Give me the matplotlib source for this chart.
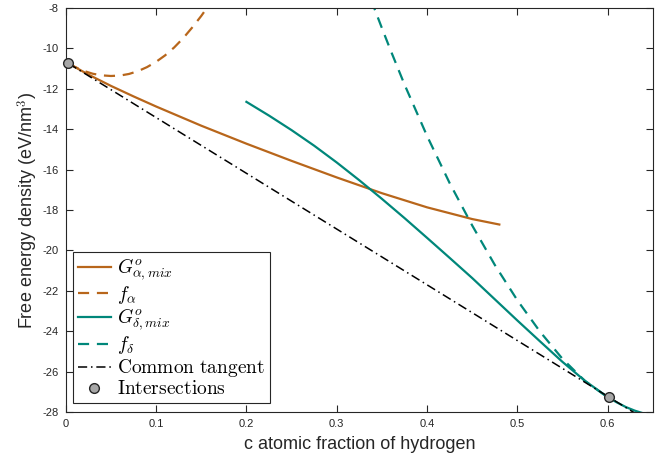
import numpy as np
import matplotlib
matplotlib.use('Agg')
import matplotlib.pyplot as plt

plt.rcParams['font.family'] = ['Liberation Sans', 'DejaVu Sans']
plt.rcParams['mathtext.fontset'] = 'cm'
plt.rcParams['axes.unicode_minus'] = False

# G_alpha,mix (solid orange)
ga_c = [0.003, 0.025, 0.05, 0.075, 0.1, 0.15, 0.2, 0.25, 0.3, 0.35, 0.4, 0.45, 0.48]
ga_y = [-10.75, -11.3, -11.86, -12.38, -12.88, -13.83, -14.72, -15.57, -16.39, -17.17, -17.87, -18.45, -18.72]

# f_alpha (dashed orange)
fa_c = [0.003, 0.01, 0.02, 0.03, 0.04, 0.05, 0.06, 0.07, 0.08, 0.09,
        0.1, 0.11, 0.12, 0.13, 0.14, 0.15, 0.16]
fa_y = [-10.75, -10.92, -11.12, -11.26, -11.34, -11.37, -11.35, -11.27, -11.13, -10.93,
        -10.67, -10.35, -9.96, -9.5, -8.97, -8.4, -7.77]

# G_delta,mix (solid green)
gd_c = [0.2, 0.225, 0.25, 0.275, 0.3, 0.325, 0.35, 0.375, 0.4, 0.425, 0.45, 0.475,
        0.5, 0.525, 0.55, 0.575, 0.6, 0.61, 0.62, 0.63, 0.64]
gd_y = [-12.65, -13.33, -14.05, -14.82, -15.65, -16.53, -17.45, -18.4, -19.38, -20.37, -21.37, -22.42,
        -23.47, -24.5, -25.52, -26.46, -27.26, -27.52, -27.75, -27.93, -28.07]

# f_delta (dashed green)
fd_c = [0.338, 0.35, 0.36, 0.375, 0.4, 0.425, 0.45, 0.475, 0.5, 0.525, 0.55, 0.575, 0.6]
fd_y = [-7.6, -9.0, -10.14, -11.79, -14.34, -16.67, -18.77, -20.72, -22.47, -24.02, -25.37, -26.47, -27.27]

# common tangent
tan_c = [0.003, 0.63]
tan_y = [-10.75, -28.05]

# intersections
int_c = [0.003, 0.601]
int_y = [-10.75, -27.27]

orange = '#b8661b'
green = '#00877a'

fig = plt.figure(figsize=(6.71, 4.63), dpi=100)
ax = fig.add_axes([0.098, 0.110, 0.875, 0.873])

ax.plot(ga_c, ga_y, color=orange, lw=1.6, label=r'$G^o_{\alpha,mix}$')
ax.plot(fa_c, fa_y, color=orange, lw=1.6, ls=(0, (5, 3.5)), label=r'$f_\alpha$')
ax.plot(gd_c, gd_y, color=green, lw=1.6, label=r'$G^o_{\delta,mix}$')
ax.plot(fd_c, fd_y, color=green, lw=1.6, ls=(0, (5, 3.5)), label=r'$f_\delta$')
ax.plot(tan_c, tan_y, color='black', lw=1.1, ls=(0, (6, 2.5, 1, 2.5)), label=r'$\mathrm{Common\ tangent}$')
ax.plot(int_c, int_y, ls='none', marker='o', ms=7, mfc='#a6a6a6', mec='#262626', mew=1.0,
        label=r'$\mathrm{Intersections}$', clip_on=False, zorder=5)

ax.set_xlim(0, 0.65)
ax.set_ylim(-28, -8)
ax.set_xticks(np.arange(0, 0.61, 0.1))
ax.set_xticklabels(['0', '0.1', '0.2', '0.3', '0.4', '0.5', '0.6'])
ax.set_yticks(np.arange(-28, -7, 2))
ax.tick_params(direction='in', top=True, right=True, length=5, width=0.8,
               labelsize=8, colors='#262626', pad=5)
for s in ax.spines.values():
    s.set_color('#262626')
    s.set_linewidth(0.8)

ax.set_xlabel('c atomic fraction of hydrogen', fontsize=13, color='#262626', labelpad=5)
ax.set_ylabel(r'Free energy density (eV/nm$^3$)', fontsize=13, color='#262626', labelpad=2)

leg = ax.legend(loc='lower left', bbox_to_anchor=(0.012, 0.022), fontsize=14, handlelength=1.7,
                handletextpad=0.3, labelspacing=0.05, borderpad=0.25, fancybox=False,
                framealpha=1, borderaxespad=0)
leg.get_frame().set_edgecolor('#262626')
leg.get_frame().set_linewidth(0.8)

plt.savefig('out.png', dpi=100)
